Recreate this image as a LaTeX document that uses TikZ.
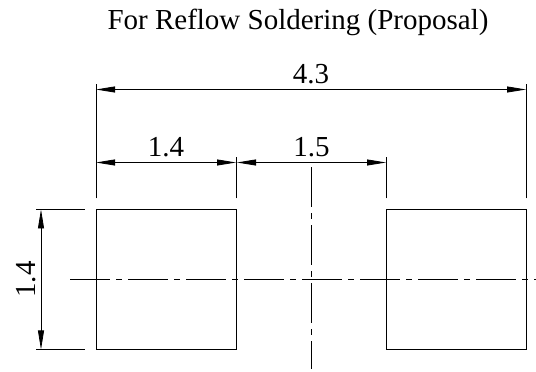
\documentclass[tikz,border=0pt]{standalone}
\usepackage{fontspec}
\setmainfont{Liberation Serif}
\usetikzlibrary{arrows.meta,calc}
\usetikzlibrary{positioning}
\tikzset{
    pad/.style = {draw, minimum width=140pt, minimum height=140pt,
                 inner sep=0pt, outer sep=0pt, line width=0.8pt},
    dimline/.style = {line width=0.8pt,
                 {Triangle[length=19pt,width=6pt]}-{Triangle[length=19pt,width=6pt]}},
    extline/.style = {line width=0.8pt},
    centreline/.style = {line width=0.8pt, dash pattern=on 40pt off 6pt on 6pt off 6pt},
    lbl/.style = {font=\fontsize{29}{33}\selectfont, inner sep=5pt},
}

\begin{document}
\begin{tikzpicture}[x=1pt,y=1pt]
 \useasboundingbox (0,0) rectangle (536,372);
 \node (title) [lbl,anchor=base] at (298,342) {For Reflow Soldering (Proposal)};
 \node (p1) [pad] at (166,92.5) {};
 \node (p2) [pad, right=150pt of p1] {};

 % extension lines
 \draw[extline] ($(p1.north west)+(0,11)$) -- ($(p1.north west)+(0,125)$);
 \draw[extline] ($(p2.north east)+(0,11)$) -- ($(p2.north east)+(0,125)$);
 \draw[extline] ($(p1.north east)+(0,11)$) -- ($(p1.north east)+(0,52)$);
 \draw[extline] ($(p2.north west)+(0,11)$) -- ($(p2.north west)+(0,52)$);
 \draw[extline] ($(p1.north west)+(-60,0)$) -- ($(p1.north west)+(-11,0)$);
 \draw[extline] ($(p1.south west)+(-60,0)$) -- ($(p1.south west)+(-11,0)$);

 % dimensions
 \draw[dimline] ($(p1.north west)+(0,120)$) -- node[lbl,above] (d1) {4.3} ($(p2.north east)+(0,120)$);
 \draw[dimline] ($(p1.north west)+(0,47)$) -- node[lbl,above] (d2) {1.4} ($(p1.north east)+(0,47)$);
 \draw[dimline] ($(p1.north east)+(1,47)$) -- node[lbl,above] (d3) {1.5} ($(p2.north west)+(0,47)$);
 \draw[dimline] ($(p1.north west)+(-55,0)$) -- node[lbl,above,rotate=90] (d4) {1.4} ($(p1.south west)+(-55,0)$);

 % centre lines
 \coordinate (c1) at ($(p1.east)!0.5!(p2.west)+(0,112)$);
 \coordinate (c2) at ($(p1.east)!0.5!(p2.west)+(0,-90)$);
 \draw[centreline] (c1) -- (c2);
 \draw[centreline] ($(p1.west)+(-26,0)$) -- ($(p2.east)+(12,0)$);
\end{tikzpicture}
\end{document}
